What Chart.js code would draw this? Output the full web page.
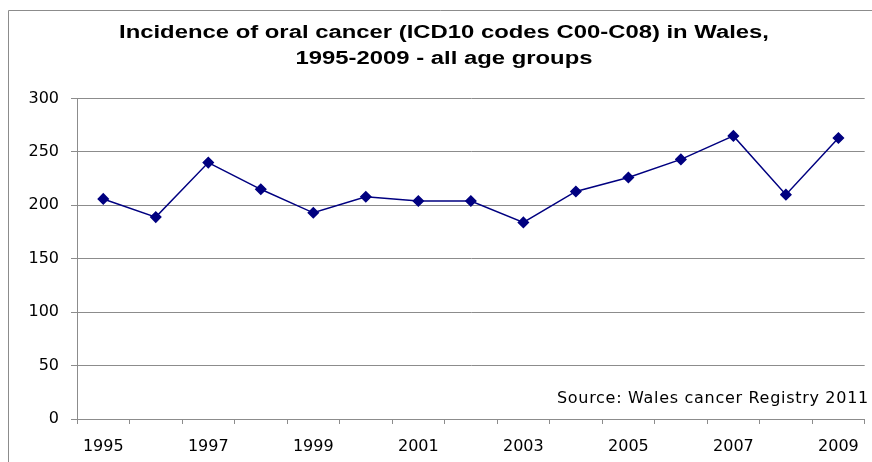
<!DOCTYPE html>
<html>
<head>
<meta charset="utf-8">
<script src="https://cdn.jsdelivr.net/npm/chart.js@4/dist/chart.umd.min.js"></script>
<style>
  html, body { margin: 0; padding: 0; background: #fff; overflow: hidden; }
  #wrap { width: 872px; height: 462px; position: relative; }
</style>
</head>
<body>
<div id="wrap"><canvas id="c" width="872" height="462"></canvas></div>
<script>
// Oral cancer incidence in Wales (ICD10 C00-C08), all age groups
const years = ['1995', '1996', '1997', '1998', '1999', '2000', '2001', '2002',
               '2003', '2004', '2005', '2006', '2007', '2008', '2009'];
const cases = [206, 189, 240, 215, 193, 208, 204, 204, 184, 213, 226, 243, 265, 210, 263];
const yMin = 0;
const yMax = 300;
const yStep = 50;
const titleLines = ['Incidence of oral cancer (ICD10 codes C00-C08) in Wales,',
                    '1995-2009 - all age groups'];
const sourceNote = 'Source: Wales cancer Registry 2011';

const axisGrey = '#8c8c8c';
const tickFont = { family: 'DejaVu Sans', size: 16 };

// Outer chart frame (top and left edges)
const framePlugin = {
  id: 'frame',
  beforeDraw(chart) {
    const ctx = chart.ctx;
    ctx.save();
    ctx.strokeStyle = axisGrey;
    ctx.lineWidth = 1;
    ctx.beginPath();
    ctx.moveTo(8.5, chart.height);
    ctx.lineTo(8.5, 10.5);
    ctx.lineTo(chart.width, 10.5);
    ctx.stroke();
    ctx.restore();
  }
};

// Two-line heading in a wide bold face
const headingPlugin = {
  id: 'heading',
  afterDraw(chart) {
    const ctx = chart.ctx;
    const cx = 444;
    const firstLineWidth = 650;
    ctx.save();
    ctx.font = 'bold 18px "Liberation Sans"';
    const sx = firstLineWidth / ctx.measureText(titleLines[0]).width;
    ctx.translate(cx, 0);
    ctx.scale(sx, 1);
    ctx.fillStyle = '#000';
    ctx.textAlign = 'center';
    ctx.textBaseline = 'middle';
    ctx.fillText(titleLines[0], 0, 33);
    ctx.fillText(titleLines[1], 0, 59.5);
    ctx.restore();
  }
};

// Source note in the lower right of the plot area
const sourcePlugin = {
  id: 'sourceNote',
  afterDatasetsDraw(chart) {
    const ctx = chart.ctx;
    const y = chart.scales.y.getPixelForValue(18.5);
    ctx.save();
    ctx.font = '16px "DejaVu Sans"';
    ctx.letterSpacing = '0.7px';
    ctx.fillStyle = '#000';
    ctx.textAlign = 'left';
    ctx.textBaseline = 'middle';
    ctx.fillText(sourceNote, 557, y);
    ctx.restore();
  }
};

new Chart(document.getElementById('c'), {
  type: 'line',
  data: {
    labels: years,
    datasets: [{
      data: cases,
      borderColor: '#000080',
      backgroundColor: '#000080',
      borderWidth: 1.5,
      pointStyle: 'rectRot',
      pointRadius: 5,
      pointHoverRadius: 5,
      tension: 0,
      fill: false
    }]
  },
  options: {
    responsive: false,
    devicePixelRatio: 1,
    animation: false,
    layout: { padding: { left: 0, right: 6, top: 98.5, bottom: 1 } },
    plugins: {
      legend: { display: false },
      tooltip: { enabled: false },
      title: { display: false }
    },
    scales: {
      x: {
        type: 'category',
        offset: true,
        grid: { offset: true, drawOnChartArea: false, drawTicks: true, tickLength: 5, color: axisGrey },
        border: { color: axisGrey },
        ticks: {
          autoSkip: false,
          maxRotation: 0,
          color: '#000',
          font: tickFont,
          padding: 13,
          callback: function (v, i) { return i % 2 === 0 ? this.getLabelForValue(v) : ''; }
        },
        afterFit(scale) { scale.height = 42; }
      },
      y: {
        min: yMin,
        max: yMax,
        grid: { color: axisGrey, tickLength: 6 },
        border: { color: axisGrey },
        ticks: { stepSize: yStep, color: '#000', font: tickFont, padding: 12 },
        afterFit(scale) { scale.width = 77; }
      }
    }
  },
  plugins: [framePlugin, headingPlugin, sourcePlugin]
});
</script>
</body>
</html>
